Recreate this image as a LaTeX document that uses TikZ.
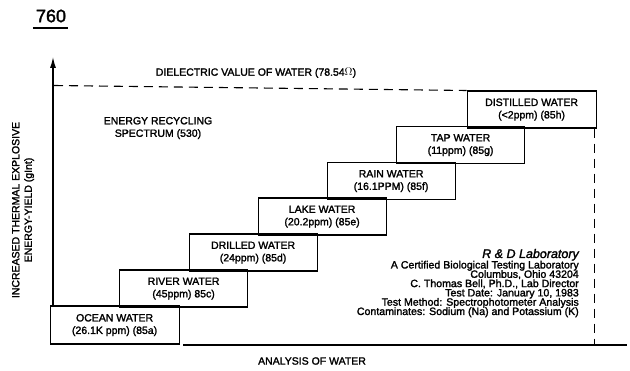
\documentclass[tikz,border=0pt]{standalone}
\usepackage{fontspec}
\setmainfont{Liberation Sans}[FakeBold=1.8]
\usetikzlibrary{arrows.meta}
\tikzset{
  wbox/.style={draw, line width=1.2pt, minimum width=128pt, minimum height=37pt,
    inner sep=0pt, anchor=north west, align=center,
    font=\fontsize{10.5}{12.5}\selectfont},
  lbl/.style={inner sep=0pt, font=\fontsize{10.5}{12.5}\selectfont},
  labline/.style={inner sep=0pt, anchor=base east, font=\fontsize{10.6}{10}\selectfont},
  axisline/.style={line width=1.3pt},
  dashline/.style={line width=1.1pt, dash pattern=on 9pt off 6pt}
}
\begin{document}
\begin{tikzpicture}[x=1pt,y=-1pt]
\useasboundingbox (0,0) rectangle (630,371);
% figure number
\node[inner sep=0pt, font=\fontsize{18}{18}\selectfont] (num) at (51,16) {760};
\draw[line width=1.5pt] ([xshift=-3pt,yshift=-5.5pt]num.south west) -- ([xshift=2pt,yshift=-5.5pt]num.south east);
% boxes
\node[wbox, minimum width=129pt, minimum height=38pt] (ocean) at (49.5,305.5) {OCEAN WATER\\(26.1K ppm) (85a)};
\node[wbox] (river) at (119,269.5) {RIVER WATER\\(45ppm) 85c)};
\node[wbox] (drilled) at (188.5,233.5) {DRILLED WATER\\(24ppm) (85d)};
\node[wbox] (lake) at (257.5,197.5) {LAKE WATER\\(20.2ppm) (85e)};
\node[wbox] (rain) at (326.5,162) {RAIN WATER\\(16.1PPM) (85f)};
\node[wbox] (tap) at (396,126) {TAP WATER\\(11ppm) (85g)};
\node[wbox, minimum width=129pt] (distilled) at (466.5,90.5) {DISTILLED WATER\\(\textless2ppm) (85h)};
% axes
\coordinate (ytop) at (53,57);
\coordinate (xstart) at (183,345);
\coordinate (xend) at (627,345);
\coordinate (dashstart) at (54,85.5);
\draw[axisline, -{Latex[length=11pt,width=6pt]}] ([xshift=3.5pt]ocean.north west) -- (ytop);
\draw[axisline] (xstart) -- (xend);
\draw[dashline] (dashstart) -- (distilled.north west);
\draw[dashline] ([xshift=-2pt]distilled.south east) -- ([xshift=-2pt]distilled.south east |- xstart);
% labels
\node[lbl] (dielectric) at (256,73) {DIELECTRIC VALUE OF WATER (78.54\(\Omega\))};
\node[lbl, align=center] (spectrum) at (158,128) {ENERGY RECYCLING\\SPECTRUM (530)};
\node[lbl] (analysis) at (312,361) {ANALYSIS OF WATER};
\node[lbl, align=center, rotate=90] (ylabel) at (23,210) {INCREASED THERMAL EXPLOSIVE\\ENERGY-YIELD (gInt)};
% lab info
\node[labline, font=\fontsize{12.5}{12.5}\selectfont\itshape] (lab1) at (579,258) {R \& D Laboratory};
\node[labline] (lab2) at (579,268.5) {A Certified Biological Testing Laboratory};
\node[labline] (lab3) at (579,277.8) {Columbus, Ohio 43204};
\node[labline] (lab4) at (579,287.1) {C. Thomas Bell, Ph.D., Lab Director};
\node[labline] (lab5) at (579,296.4) {Test Date: January 10, 1983};
\node[labline] (lab6) at (579,305.7) {Test Method: Spectrophotometer Analysis};
\node[labline] (lab7) at (579,315) {Contaminates: Sodium (Na) and Potassium (K)};
\end{tikzpicture}
\end{document}
